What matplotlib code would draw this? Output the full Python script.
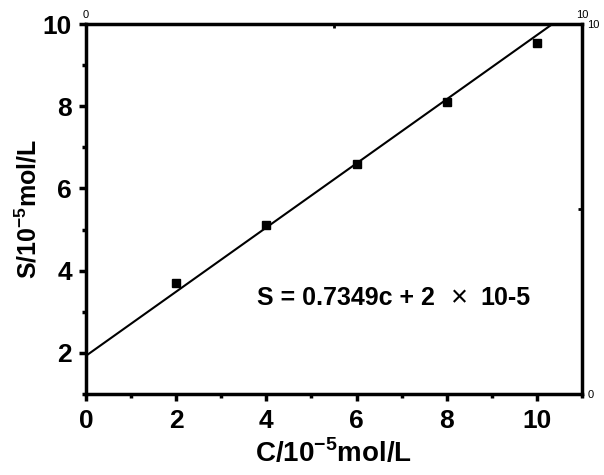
import numpy as np
import matplotlib.pyplot as plt

plt.rcParams['font.family'] = ['Liberation Sans', 'DejaVu Sans']
plt.rcParams['mathtext.fontset'] = 'custom'
plt.rcParams['mathtext.rm'] = 'Liberation Sans:bold'
plt.rcParams['mathtext.bf'] = 'Liberation Sans:bold'

# data
conc = [2, 4, 6, 8, 10]
signal = [3.7, 5.1, 6.6, 8.1, 9.55]
fit_slope = 0.78
fit_intercept = 1.93

fig = plt.figure(figsize=(6.04, 4.75), dpi=100)
ax = fig.add_axes([86/604, 81/475, 496/604, 370/475])

# fitted line across the frame
xl = np.array([0, 11])
ax.plot(xl, fit_slope*xl + fit_intercept, color='black', lw=1.5)
ax.plot(conc, signal, 's', color='black', ms=5.5)

ax.set_xlim(0, 11)
ax.set_ylim(1, 10)
ax.set_xticks([0, 2, 4, 6, 8, 10])
ax.set_xticks([1, 3, 5, 7, 9, 11], minor=True)
ax.set_yticks([2, 4, 6, 8, 10])
ax.set_yticks([1, 3, 5, 7, 9], minor=True)
for s in ax.spines.values():
    s.set_linewidth(2.5)
ax.tick_params(which='major', direction='out', length=5, width=2.5, labelsize=19)
ax.tick_params(axis='x', which='major', pad=6)
ax.tick_params(axis='y', which='major', pad=5)
ax.tick_params(which='minor', direction='out', length=3, width=2.5)
for lab in ax.get_xticklabels() + ax.get_yticklabels():
    lab.set_fontweight('bold')

ax.set_xlabel(r"C/10$^{\mathbf{-5}}$mol/L", fontsize=20, fontweight='bold', labelpad=4)
ax.set_ylabel(r"S/10$^{\mathbf{-5}}$mol/L", fontsize=18, fontweight='bold', labelpad=1)

ax.text(3.8, 3.34, "S = 0.7349c + 2", fontsize=18, fontweight='bold', va='center')
ax.text(8.1, 3.34, "\u00d7", fontsize=21, fontweight='light', va='center')
ax.text(8.74, 3.34, "10-5", fontsize=18, fontweight='bold', va='center')

# odd secondary axes (top and right), as in the original
top = ax.twiny()
top.set_xlim(0, 10)
top.set_xticks([0, 10])
top.set_xticks([5], minor=True)
top.tick_params(axis='x', which='major', length=0, labelsize=8, pad=3)
top.tick_params(axis='x', which='minor', direction='in', length=3, width=2)
for s in top.spines.values():
    s.set_visible(False)

right = ax.twinx()
right.set_ylim(0, 10)
right.set_yticks([0, 10])
right.set_yticks([5], minor=True)
right.tick_params(axis='y', which='major', length=0, labelsize=8, pad=4)
right.tick_params(axis='y', which='minor', direction='in', length=3, width=2)
for s in right.spines.values():
    s.set_visible(False)

fig.savefig('out.png', dpi=100)
